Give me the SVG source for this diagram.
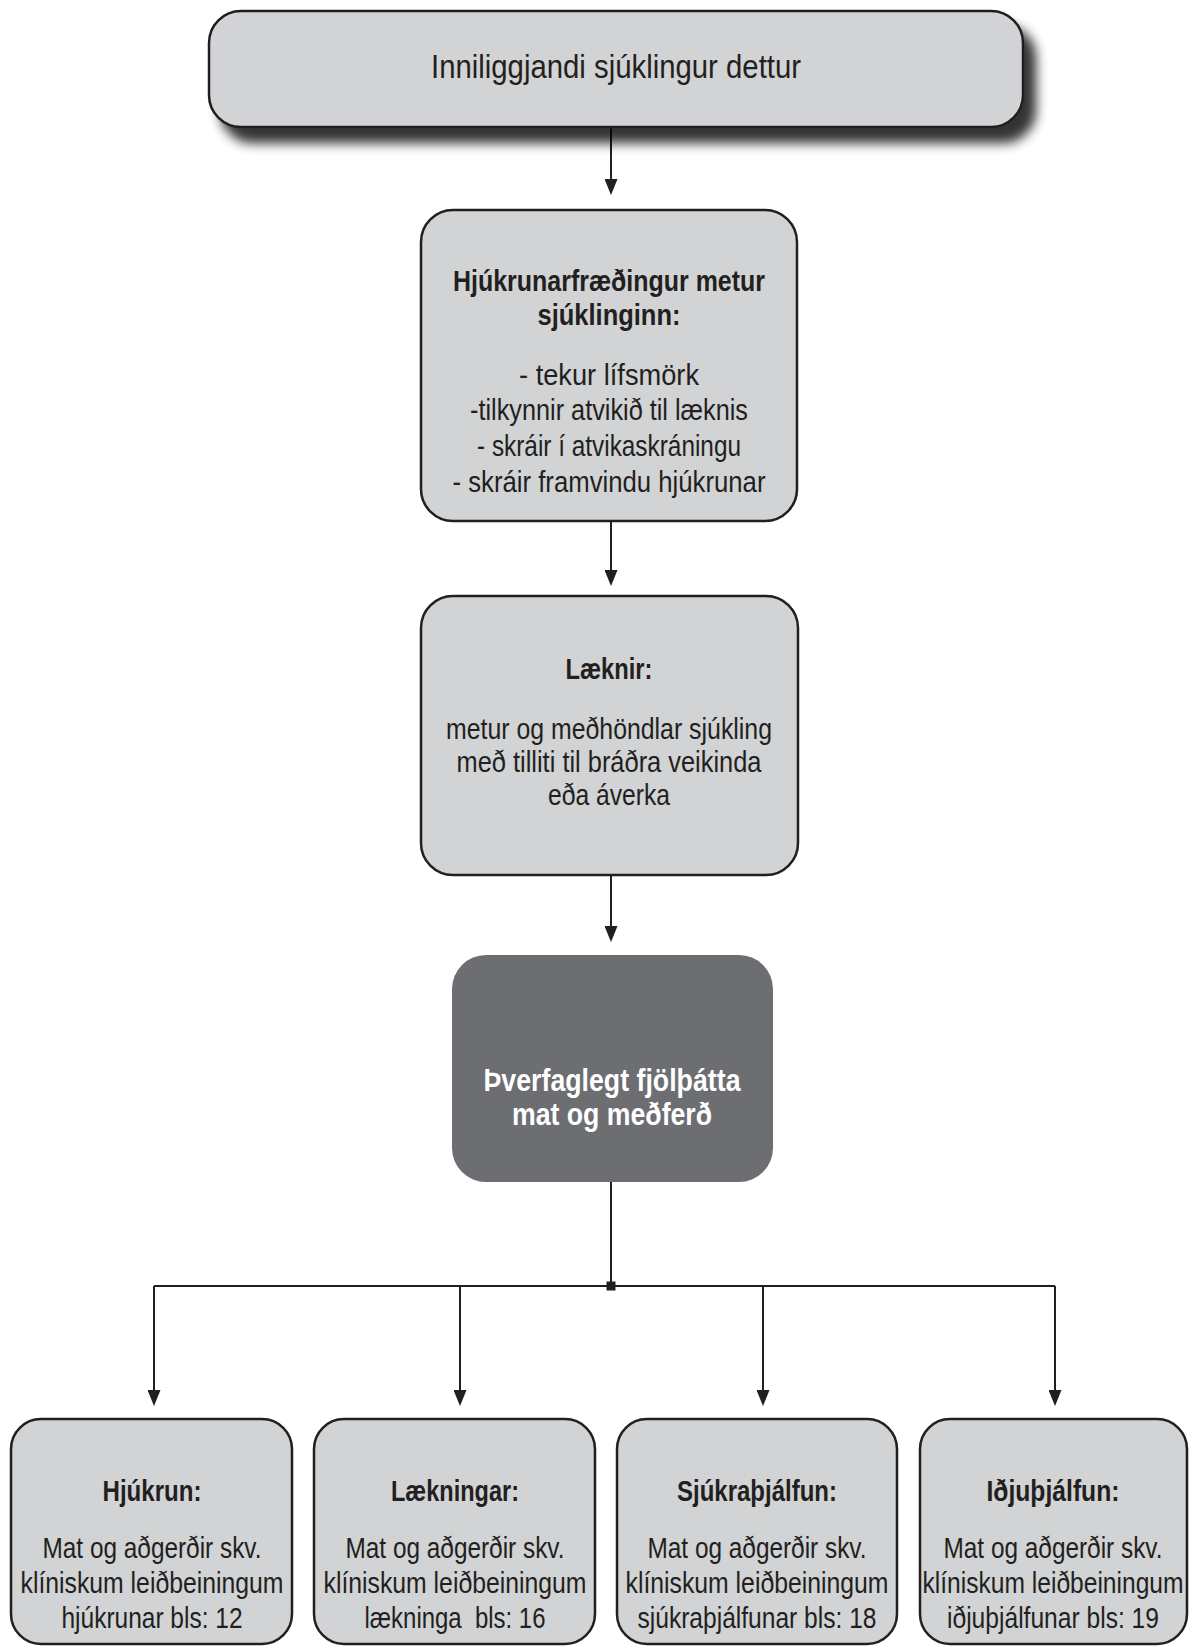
<svg xmlns="http://www.w3.org/2000/svg" width="1189" height="1647" viewBox="0 0 1189 1647">
<defs>
<style>
.box{fill:#d1d3d4;stroke:#231f20;stroke-width:2.5}
.dark{fill:#6d6e71}
.t{font-family:"Liberation Sans Narrow","Liberation Sans",sans-serif;fill:#231f20;text-anchor:middle}
.b{font-weight:bold}
.w{fill:#ffffff}
.c{fill:none;stroke:#231f20;stroke-width:2}
</style>
<marker id="ah" markerUnits="userSpaceOnUse" viewBox="0 0 16 13" refX="8" refY="6.5" markerWidth="16" markerHeight="13" orient="auto">
<path d="M0,0 L16,6.5 L0,13 Z" fill="#231f20"/>
</marker>
<filter id="sh" x="-5%" y="-30%" width="115%" height="180%">
<feGaussianBlur in="SourceAlpha" stdDeviation="6"/>
<feOffset dx="12" dy="15" result="o"/>
<feComponentTransfer><feFuncA type="linear" slope="0.8"/></feComponentTransfer>
<feMerge><feMergeNode/><feMergeNode in="SourceGraphic"/></feMerge>
</filter>
</defs>

<g id="connectors">
<line class="c" x1="611" y1="127" x2="611" y2="187" marker-end="url(#ah)"/>
<line class="c" x1="611" y1="521" x2="611" y2="578" marker-end="url(#ah)"/>
<line class="c" x1="611" y1="875" x2="611" y2="934" marker-end="url(#ah)"/>
<polyline class="c" points="611,1182 611,1286"/>
<polyline class="c" points="154,1286 1055,1286"/>
<line class="c" x1="154" y1="1286" x2="154" y2="1398" marker-end="url(#ah)"/>
<line class="c" x1="460" y1="1286" x2="460" y2="1398" marker-end="url(#ah)"/>
<line class="c" x1="763" y1="1286" x2="763" y2="1398" marker-end="url(#ah)"/>
<line class="c" x1="1055" y1="1286" x2="1055" y2="1398" marker-end="url(#ah)"/>
<rect x="606.5" y="1281.5" width="9" height="9" fill="#231f20"/>
</g>

<g id="n-start">
<rect class="box" x="209" y="11" width="814" height="116" rx="32" filter="url(#sh)"/>
<text class="t" x="616" y="78" font-size="34" textLength="370" lengthAdjust="spacingAndGlyphs">Inniliggjandi sjúklingur dettur</text>
</g>

<g id="n-nurse">
<rect class="box" x="421" y="210" width="376" height="311" rx="32"/>
<text class="t b" x="609" y="291" font-size="30" textLength="312" lengthAdjust="spacingAndGlyphs">Hjúkrunarfræðingur metur</text>
<text class="t b" x="609" y="325" font-size="30" textLength="143" lengthAdjust="spacingAndGlyphs">sjúklinginn:</text>
<text class="t" x="609" y="385" font-size="30" textLength="180" lengthAdjust="spacingAndGlyphs">- tekur lífsmörk</text>
<text class="t" x="609" y="420" font-size="30" textLength="278" lengthAdjust="spacingAndGlyphs">-tilkynnir atvikið til læknis</text>
<text class="t" x="609" y="456" font-size="30" textLength="264" lengthAdjust="spacingAndGlyphs">- skráir í atvikaskráningu</text>
<text class="t" x="609" y="492" font-size="30" textLength="313" lengthAdjust="spacingAndGlyphs">- skráir framvindu hjúkrunar</text>
</g>

<g id="n-doctor">
<rect class="box" x="421" y="596" width="377" height="279" rx="32"/>
<text class="t b" x="609" y="679" font-size="30" textLength="87" lengthAdjust="spacingAndGlyphs">Læknir:</text>
<text class="t" x="609" y="739" font-size="30" textLength="326" lengthAdjust="spacingAndGlyphs">metur og meðhöndlar sjúkling</text>
<text class="t" x="609" y="772" font-size="30" textLength="305" lengthAdjust="spacingAndGlyphs">með tilliti til bráðra veikinda</text>
<text class="t" x="609" y="805" font-size="30" textLength="122" lengthAdjust="spacingAndGlyphs">eða áverka</text>
</g>

<g id="n-multi">
<rect class="dark" x="452" y="955" width="321" height="227" rx="34"/>
<text class="t b w" x="612" y="1091" font-size="31" textLength="257" lengthAdjust="spacingAndGlyphs">Þverfaglegt fjölþátta</text>
<text class="t b w" x="612" y="1125" font-size="31" textLength="200" lengthAdjust="spacingAndGlyphs">mat og meðferð</text>
</g>

<g id="n-hjukrun">
<rect class="box" x="11" y="1419" width="281" height="225" rx="30"/>
<text class="t b" x="152" y="1501" font-size="30" textLength="99" lengthAdjust="spacingAndGlyphs">Hjúkrun:</text>
<text class="t" x="152" y="1558" font-size="30" textLength="219" lengthAdjust="spacingAndGlyphs">Mat og aðgerðir skv.</text>
<text class="t" x="152" y="1593" font-size="30" textLength="263" lengthAdjust="spacingAndGlyphs">klíniskum leiðbeiningum</text>
<text class="t" x="152" y="1628" font-size="30" textLength="181" lengthAdjust="spacingAndGlyphs">hjúkrunar bls: 12</text>
</g>

<g id="n-laekningar">
<rect class="box" x="314" y="1419" width="281" height="225" rx="30"/>
<text class="t b" x="455" y="1501" font-size="30" textLength="128" lengthAdjust="spacingAndGlyphs">Lækningar:</text>
<text class="t" x="455" y="1558" font-size="30" textLength="219" lengthAdjust="spacingAndGlyphs">Mat og aðgerðir skv.</text>
<text class="t" x="455" y="1593" font-size="30" textLength="263" lengthAdjust="spacingAndGlyphs">klíniskum leiðbeiningum</text>
<text class="t" x="455" y="1628" font-size="30" textLength="181" lengthAdjust="spacingAndGlyphs" xml:space="preserve">lækninga  bls: 16</text>
</g>

<g id="n-sjukrathjalfun">
<rect class="box" x="617" y="1419" width="280" height="225" rx="30"/>
<text class="t b" x="757" y="1501" font-size="30" textLength="160" lengthAdjust="spacingAndGlyphs">Sjúkraþjálfun:</text>
<text class="t" x="757" y="1558" font-size="30" textLength="219" lengthAdjust="spacingAndGlyphs">Mat og aðgerðir skv.</text>
<text class="t" x="757" y="1593" font-size="30" textLength="263" lengthAdjust="spacingAndGlyphs">klíniskum leiðbeiningum</text>
<text class="t" x="757" y="1628" font-size="30" textLength="239" lengthAdjust="spacingAndGlyphs">sjúkraþjálfunar bls: 18</text>
</g>

<g id="n-idjuthjalfun">
<rect class="box" x="920" y="1419" width="267" height="225" rx="30"/>
<text class="t b" x="1053" y="1501" font-size="30" textLength="133" lengthAdjust="spacingAndGlyphs">Iðjuþjálfun:</text>
<text class="t" x="1053" y="1558" font-size="30" textLength="219" lengthAdjust="spacingAndGlyphs">Mat og aðgerðir skv.</text>
<text class="t" x="1053" y="1593" font-size="30" textLength="261" lengthAdjust="spacingAndGlyphs">klíniskum leiðbeiningum</text>
<text class="t" x="1053" y="1628" font-size="30" textLength="212" lengthAdjust="spacingAndGlyphs">iðjuþjálfunar bls: 19</text>
</g>
</svg>
